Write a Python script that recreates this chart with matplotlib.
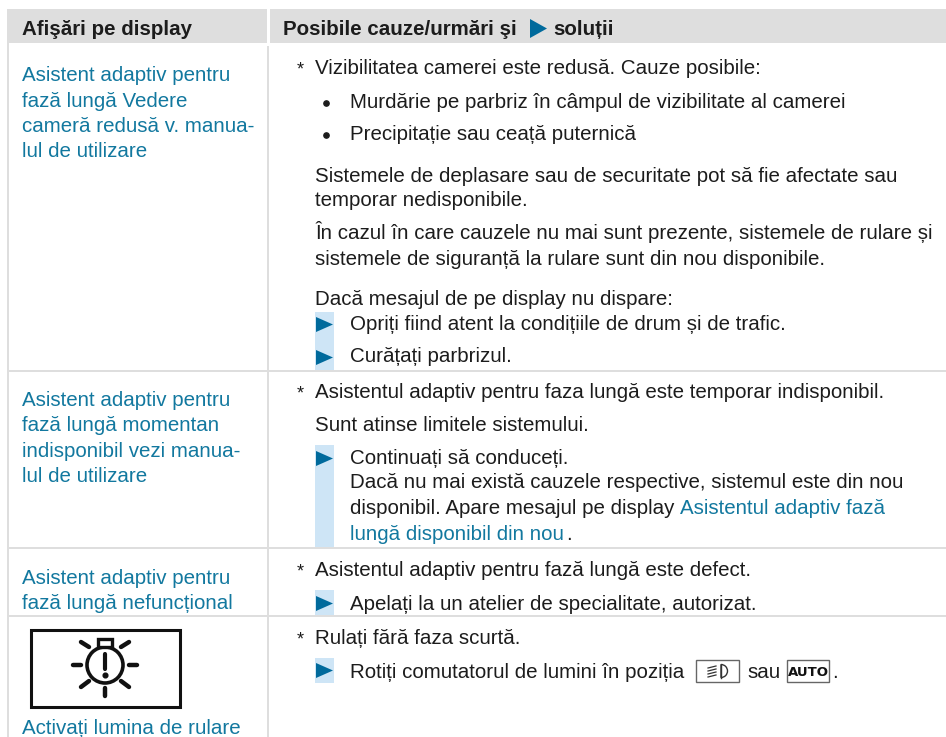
#!/usr/bin/env python3
"""Recreate the display-messages table page, drawn on a pixel-sized axes."""
import matplotlib
matplotlib.use("Agg")
import matplotlib.pyplot as plt  # noqa: E402
from matplotlib.patches import Circle, Polygon, Rectangle, Wedge  # noqa: E402

W, H = 946, 737
BLUE = "#12789f"
ARROW = "#006a9c"
PALE = "#cee5f6"
GREY = "#dedede"
INK = "#1c1c1c"
FS = 14.8

plt.rcParams["font.family"] = ["Liberation Sans", "DejaVu Sans"]

header_left = "Afişări pe display"
header_right = "Posibile cauze/urmări şi"
header_right_tail = "soluții"

left_lines = [
    "Asistent adaptiv pentru", "fază lungă Vedere",
    "cameră redusă v. manua-", "lul de utilizare",
    "Asistent adaptiv pentru", "fază lungă momentan",
    "indisponibil vezi manua-", "lul de utilizare",
    "Asistent adaptiv pentru", "fază lungă nefuncțional",
    "Activați lumina de rulare",
]
left_base = [81, 107, 132, 157, 406, 431, 457, 482, 584, 609, 734]

stars = [74, 398, 576, 644]
body_lines = [
    "Vizibilitatea camerei este redusă. Cauze posibile:",
    "Sistemele de deplasare sau de securitate pot să fie afectate sau",
    "temporar nedisponibile.",
    "În cazul în care cauzele nu mai sunt prezente, sistemele de rulare și",
    "sistemele de siguranță la rulare sunt din nou disponibile.",
    "Dacă mesajul de pe display nu dispare:",
    "Asistentul adaptiv pentru faza lungă este temporar indisponibil.",
    "Sunt atinse limitele sistemului.",
    "Asistentul adaptiv pentru fază lungă este defect.",
    "Rulați fără faza scurtă.",
]
body_base = [74, 182, 206, 239, 265, 305, 398, 431, 576, 644]

bullet_lines = ["Murdărie pe parbriz în câmpul de vizibilitate al camerei",
                "Precipitație sau ceață puternică"]
bullet_base = [108, 140]

step_lines = [
    "Opriți fiind atent la condițiile de drum și de trafic.",
    "Curățați parbrizul.",
    "Continuați să conduceți.",
    "Dacă nu mai există cauzele respective, sistemul este din nou",
    "disponibil. Apare mesajul pe display",
    "Apelați la un atelier de specialitate, autorizat.",
    "Rotiți comutatorul de lumini în poziția",
]
step_base = [330, 362, 464, 488, 514, 610, 678]

link_lines = ["Asistentul adaptiv fază", "lungă disponibil din nou"]
arrow_tops = [317, 350, 451, 596, 663]
# light blue strips behind the step arrows: (top, bottom)
strips = [(312, 370), (445, 547), (590, 615), (658, 683)]

fig = plt.figure(figsize=(W / 100, H / 100), dpi=100)
ax = fig.add_axes([0, 0, 1, 1])
ax.set_xlim(0, W)
ax.set_ylim(H, 0)
ax.axis("off")


def txt(x, y, s, color=INK, **kw):
    return ax.text(x, y, s, color=color, fontsize=kw.pop("fontsize", FS),
                   va="baseline", **kw)


def arrow(x, y):
    ax.add_patch(Polygon([(x, y), (x + 17, y + 7.5), (x, y + 15)],
                         closed=True, color=ARROW, lw=0))


# header band and table rules
ax.add_patch(Rectangle((9, 9), 258, 34, color=GREY, lw=0))
ax.add_patch(Rectangle((270, 9), 676, 34, color=GREY, lw=0))
ax.add_patch(Rectangle((7, 9), 2, 728, color=GREY, lw=0))
ax.add_patch(Rectangle((267, 46), 2, 691, color=GREY, lw=0))
for y in [371, 548, 616]:
    ax.add_patch(Rectangle((9, y - 1), W - 9, 2, color=GREY, lw=0))

for top, bottom in strips:
    ax.add_patch(Rectangle((315, top), 19, bottom - top, color=PALE, lw=0))

txt(22, 35, header_left, weight="bold")
txt(283, 35, header_right, weight="bold")
ax.add_patch(Polygon([(530, 19), (547, 28.5), (530, 38)], closed=True, color=ARROW, lw=0))
txt(553, 35, header_right_tail, weight="bold")

for s, y in zip(left_lines, left_base):
    txt(22, y, s, color=BLUE)
for y in stars:
    txt(297, y, "*", fontsize=13)
for s, y in zip(body_lines, body_base):
    txt(315, y, s)
for s, y in zip(bullet_lines, bullet_base):
    ax.plot([326], [y - 5], "o", ms=3.8, color=INK)
    txt(350, y, s)
for s, y in zip(step_lines, step_base):
    txt(350, y, s)
for y in arrow_tops:
    arrow(316, y)

txt(680, 514, link_lines[0], color=BLUE)
txt(350, 540, link_lines[1], color=BLUE)
txt(566, 540, ".")

# switch position glyphs
ax.add_patch(Rectangle((696, 660), 43, 22, fc="white", ec="#666666", lw=1))
ax.add_patch(Rectangle((787, 660), 42, 22, fc="white", ec="#666666", lw=1))
txt(808, 676, "AUTO", weight="bold", fontsize=9.5, ha="center", color="#111111",
    family="DejaVu Sans")
for dy in (-4, -1, 2, 5):
    ax.plot([708, 716], [671 + dy + 1, 671 + dy - 1], color="#333333", lw=0.9)
ax.add_patch(Wedge((721, 671), 6.5, -90, 90, fc="white", ec="#333333", lw=1))
ax.plot([721, 721], [664.5, 677.5], color="#333333", lw=1)
txt(747, 678, "sau")
txt(832, 678, ".")

# warning lamp icon
ax.add_patch(Rectangle((30.5, 629.5), 149, 77, fc="white", ec="#111111", lw=2.2))
ax.add_patch(Circle((105, 665), 18, fc="white", ec="#111111", lw=2.6))
ax.add_patch(Rectangle((98, 639), 14, 8, fc="white", ec="#111111", lw=2.4))
ray = dict(color="#111111", lw=3.2, solid_capstyle="round")
for x0, y0, x1, y1 in [(73, 665, 81, 665), (129, 665, 137, 665), (105, 688, 105, 696),
                       (81, 642, 89, 647), (129, 642, 121, 647),
                       (81, 687, 89, 681), (129, 687, 121, 681)]:
    ax.plot([x0, x1], [y0, y1], **ray)
ax.plot([105, 105], [654, 669], color="#111111", lw=3, solid_capstyle="round")
ax.plot([105], [675], "o", ms=3.4, color="#111111")

fig.savefig("out.png", dpi=100)
